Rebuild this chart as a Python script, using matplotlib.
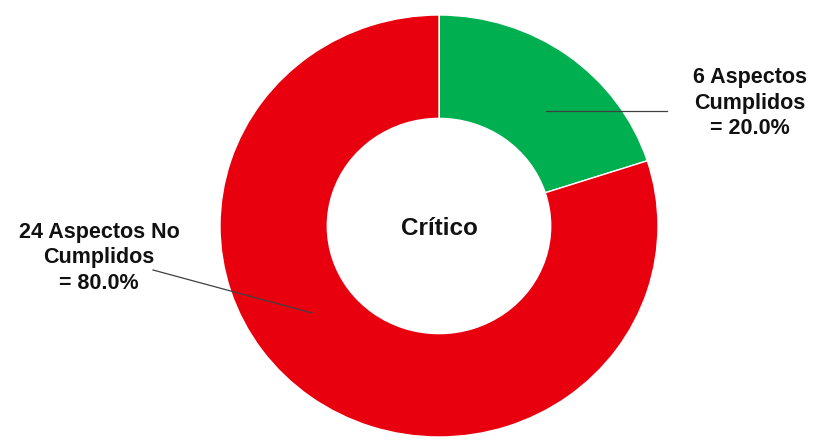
import matplotlib.pyplot as plt
from matplotlib.lines import Line2D

plt.rcParams['font.family'] = ['Liberation Sans', 'DejaVu Sans']

categorias = ["Aspectos Cumplidos", "Aspectos No Cumplidos"]
valores = [6, 24]
colores = ["#00B050", "#E8000E"]
centro_texto = "Crítico"

W, H = 817, 443
fig = plt.figure(figsize=(W / 100, H / 100), dpi=100)


def fx(px):
    return px / W


def fy(py):
    return 1 - py / H


# axes placed over the donut area (pixel box 220..658 x 15..437)
ax = fig.add_axes([fx(220), fy(437), (658 - 220) / W, (437 - 15) / H])
ax.pie(valores, colors=colores, startangle=90, counterclock=False, radius=1,
       wedgeprops=dict(width=0.49, edgecolor="white", linewidth=1))
ax.set_xlim(-1, 1)
ax.set_ylim(-1, 1)
ax.set_aspect("auto")
ax.axis("off")

ax.text(0, -0.01, centro_texto, ha="center", va="center", fontsize=17.5,
        fontweight="bold", color="#111111")

total = sum(valores)
etiqueta_cumplidos = "%d Aspectos\nCumplidos\n= %.1f%%" % (valores[0], valores[0] / total * 100)
etiqueta_no = "%d Aspectos No\nCumplidos\n= %.1f%%" % (valores[1], valores[1] / total * 100)

fig.text(fx(750), fy(103), etiqueta_cumplidos, ha="center", va="center",
         fontsize=15.5, fontweight="bold", color="#111111", linespacing=1.28)
fig.text(fx(99), fy(258), etiqueta_no, ha="center", va="center",
         fontsize=15.5, fontweight="bold", color="#111111", linespacing=1.28)

# leader lines
fig.add_artist(Line2D([fx(546), fx(667)], [fy(111), fy(111)],
                      transform=fig.transFigure, color="#404040", lw=0.9))
fig.add_artist(Line2D([fx(153), fx(312)], [fy(270), fy(313)],
                      transform=fig.transFigure, color="#404040", lw=0.9))

fig.savefig("out.png", dpi=100, facecolor="white")
